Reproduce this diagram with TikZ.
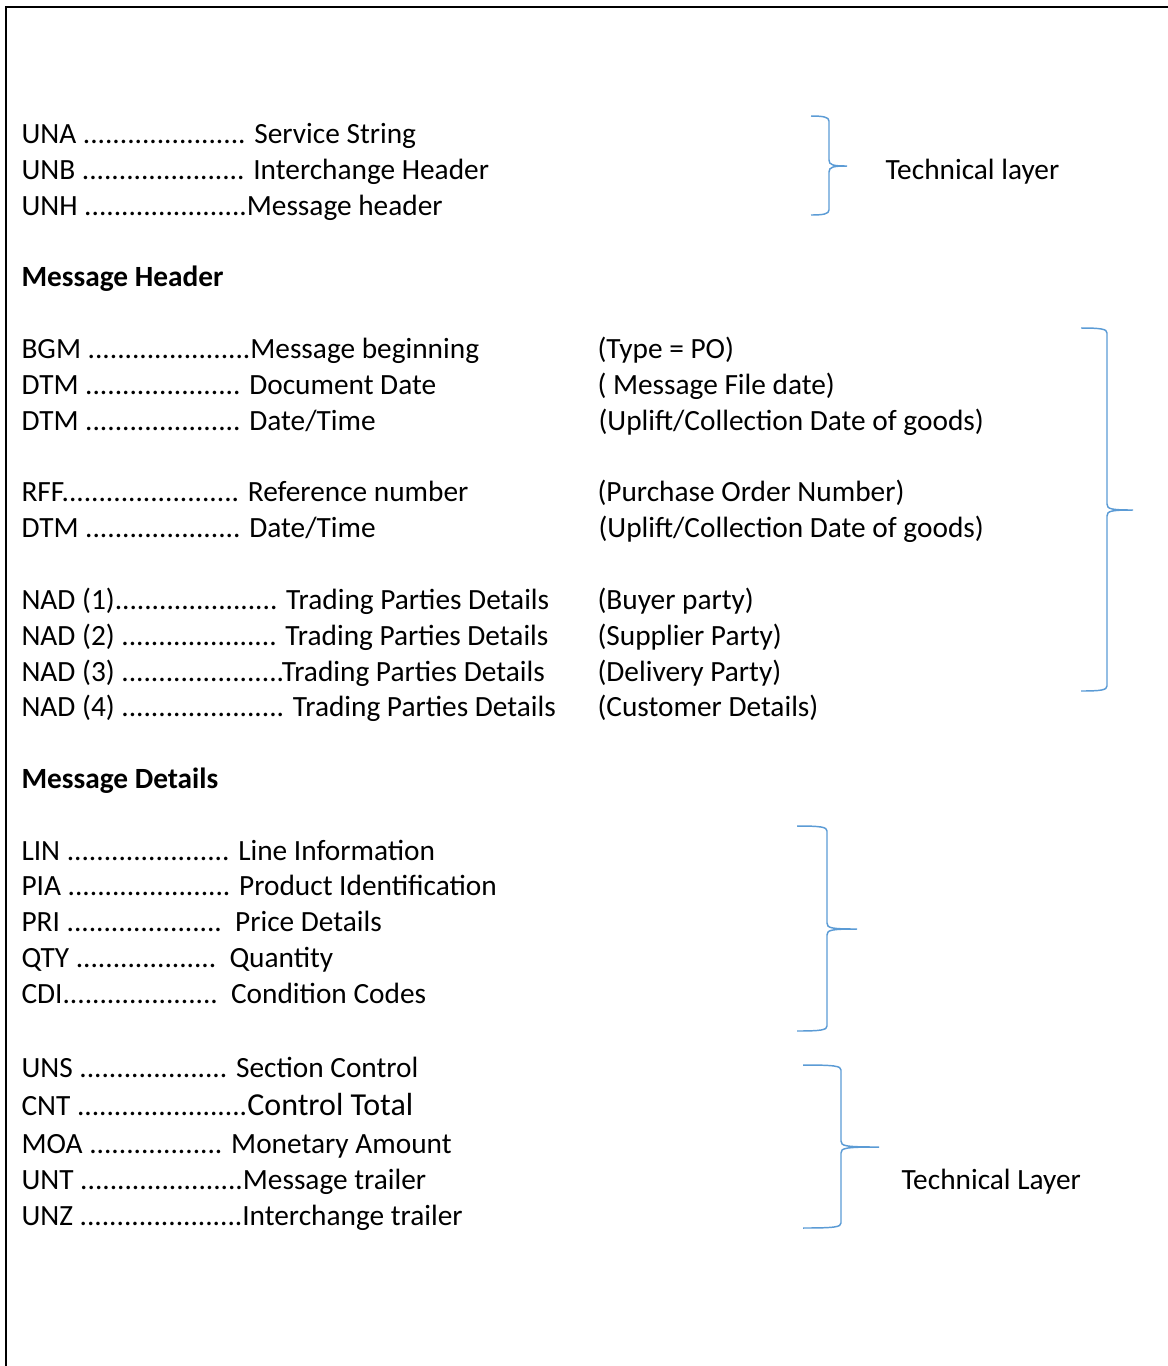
\documentclass[tikz,border=0pt]{standalone}
\usepackage{fontspec}
\setmainfont{Carlito}
\definecolor{bracecol}{RGB}{91,155,213}
\tikzset{
  txt/.style={anchor=base west, inner sep=0pt, font=\fontsize{11}{13}\selectfont},
  hdr/.style={txt, font=\fontsize{11}{13}\selectfont\bfseries},
  bracepath/.style={draw=bracecol, line width=0.55pt},
  frameline/.style={draw=black, line width=0.75pt}
}
\newcommand{\rbr}[6]{% x0, xs, xt, top, mid, bot
  \draw[bracepath] (#1,#4) .. controls (#2-6,#4) and (#2,#4+1) .. (#2,#4+5)
    -- (#2,#5-6) .. controls (#2,#5-1) and (#2+4,#5) .. (#3,#5)
    .. controls (#2+4,#5) and (#2,#5+1) .. (#2,#5+6)
    -- (#2,#6-5) .. controls (#2,#6-1) and (#2-6,#6) .. (#1,#6);}
\begin{document}
\begin{tikzpicture}[x=0.375pt, y=-0.375pt]
\useasboundingbox (0,0) rectangle (1168,1366);
\draw[frameline] (6,1366) -- (6,6.5) -- (1168,6.5);

% technical header
\node[txt] (una) at (21,143) {UNA ...................... Service String};
\node[txt] (unb) at (21,179) {UNB ...................... Interchange Header};
\node[txt] (unh) at (21,215) {UNH ......................Message header};
\node[txt] (tl1) at (885,179) {Technical layer};

\node[hdr] (mh) at (21,286) {Message Header};

\node[txt] (bgm) at (21,358) {BGM ......................Message beginning};
\node[txt] (dtm1) at (21,394) {DTM ..................... Document Date};
\node[txt] (dtm2) at (21,430) {DTM ..................... Date/Time};
\node[txt] (rff) at (21,501) {RFF........................ Reference number};
\node[txt] (dtm3) at (21,537) {DTM ..................... Date/Time};
\node[txt] (nad1) at (21,609) {NAD (1)...................... Trading Parties Details};
\node[txt] (nad2) at (21,645) {NAD (2) ..................... Trading Parties Details};
\node[txt] (nad3) at (21,681) {NAD (3) ......................Trading Parties Details};
\node[txt] (nad4) at (21,716) {NAD (4) ...................... Trading Parties Details};

\node[txt] (r1) at (597,358) {(Type = PO)};
\node[txt] (r2) at (597,394) {( Message File date)};
\node[txt] (r3) at (598,430) {(Uplift/Collection Date of goods)};
\node[txt] (r4) at (597,501) {(Purchase Order Number)};
\node[txt] (r5) at (598,537) {(Uplift/Collection Date of goods)};
\node[txt] (r6) at (597,609) {(Buyer party)};
\node[txt] (r7) at (597,645) {(Supplier Party)};
\node[txt] (r8) at (597,681) {(Delivery Party)};
\node[txt] (r9) at (597,716) {(Customer Details)};

\node[hdr] (md) at (21,788) {Message Details};

\node[txt] (lin) at (21,860) {LIN ...................... Line Information};
\node[txt] (pia) at (21,895) {PIA ...................... Product Identification};
\node[txt] (pri) at (21,931) {PRI .....................\ \ Price Details};
\node[txt] (qty) at (21,967) {QTY ...................\ \ Quantity};
\node[txt] (cdi) at (21,1003) {CDI.....................\ \ Condition Codes};

\node[txt] (uns) at (21,1077) {UNS .................... Section Control};
\node[txt] (cnt) at (21,1115) {CNT .......................{\fontsize{12}{14}\selectfont Control Total}};
\node[txt] (moa) at (21,1153) {MOA .................. Monetary Amount};
\node[txt] (unt) at (21,1189) {UNT ......................Message trailer};
\node[txt] (unz) at (21,1225) {UNZ ......................Interchange trailer};
\node[txt] (tl2) at (901,1189) {Technical Layer};

% braces
\rbr{811}{829}{847}{116}{166}{215}
\rbr{1081}{1107}{1133}{328}{510}{691}
\rbr{797}{827}{857}{826}{929}{1031}
\rbr{803}{841}{879}{1065}{1147}{1228}
\end{tikzpicture}
\end{document}
